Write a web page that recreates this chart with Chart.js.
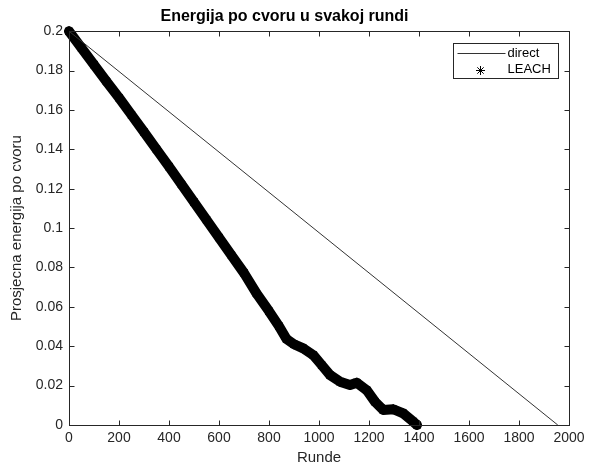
<!DOCTYPE html>
<html>
<head>
<meta charset="utf-8">
<script src="https://cdn.jsdelivr.net/npm/chart.js@4"></script>
<style>
  body { margin: 0; background: #fff; }
  #wrap { width: 590px; height: 468px; }
</style>
</head>
<body>
<div id="wrap"><canvas id="energyChart" width="590" height="468"></canvas></div>
<script>
// values
const directRounds = [0, 1955];
const directEnergy = [0.2, 0];

const leachRounds = [0, 50, 100, 150, 200, 250, 300, 350, 400, 450, 500, 550, 600, 650, 700, 750, 800,
    840, 870, 900, 937, 977, 1011, 1044, 1084, 1124, 1151, 1191, 1224, 1257, 1297, 1337, 1377, 1392];
const leachEnergy = [0.2, 0.1915, 0.183, 0.1745, 0.1662, 0.1575, 0.1488, 0.14, 0.1312, 0.1222, 0.1132, 0.1042, 0.0952, 0.0862, 0.0772, 0.0668, 0.0578,
    0.0502, 0.0437, 0.041, 0.0389, 0.0355, 0.0304, 0.0254, 0.022, 0.0203, 0.0215, 0.0177, 0.0118, 0.0076, 0.008, 0.0059, 0.0017, 0];

const xTicks = [0, 200, 400, 600, 800, 1000, 1200, 1400, 1600, 1800, 2000];
const yTicks = [0, 0.02, 0.04, 0.06, 0.08, 0.1, 0.12, 0.14, 0.16, 0.18, 0.2];

const FONT = "'Liberation Sans', Arial, sans-serif";
const AXIS = '#262626';

// box, inward ticks and the legend, matlab style
const framePlugin = {
    id: 'frame',
    afterDraw(chart) {
        const ctx = chart.ctx;
        const a = chart.chartArea;
        const l = Math.round(a.left) + 0.5, r = Math.round(a.right) + 0.5;
        const t = Math.round(a.top) + 0.5, b = Math.round(a.bottom) + 0.5;
        ctx.save();
        ctx.strokeStyle = AXIS;
        ctx.lineWidth = 1;
        ctx.strokeRect(l, t, r - l, b - t);
        ctx.beginPath();
        xTicks.forEach(v => {
            const px = Math.round(chart.scales.x.getPixelForValue(v)) + 0.5;
            ctx.moveTo(px, b); ctx.lineTo(px, b - 5);
            ctx.moveTo(px, t); ctx.lineTo(px, t + 5);
        });
        yTicks.forEach(v => {
            const py = Math.round(chart.scales.y.getPixelForValue(v)) + 0.5;
            ctx.moveTo(l, py); ctx.lineTo(l + 5, py);
            ctx.moveTo(r, py); ctx.lineTo(r - 5, py);
        });
        ctx.stroke();

        // legend
        const ds = chart.data.datasets;
        const bx = r - 116, by = t + 12, bw = 105, bh = 35;
        ctx.fillStyle = '#fff';
        ctx.fillRect(bx, by, bw, bh);
        ctx.strokeRect(bx, by, bw, bh);
        ctx.strokeStyle = ds[0].borderColor;
        ctx.beginPath();
        ctx.moveTo(bx + 4, by + 10); ctx.lineTo(bx + 52, by + 10);
        ctx.stroke();
        ctx.strokeStyle = '#000';
        Chart.helpers.drawPoint(ctx, { pointStyle: 'star', radius: 4.5, rotation: 0, borderWidth: 1.2 }, bx + 27, by + 27);
        ctx.fillStyle = '#000';
        ctx.font = '13px ' + FONT;
        ctx.textAlign = 'left';
        ctx.textBaseline = 'middle';
        ctx.fillText(ds[0].label, bx + 54, by + 10);
        ctx.fillText(ds[1].label, bx + 54, by + 26);
        ctx.restore();
    }
};

const energyChart = new Chart(document.getElementById('energyChart'), {
    type: 'line',
    data: {
        datasets: [
            {
                label: 'direct',
                data: directRounds.map((r, i) => ({ x: r, y: directEnergy[i] })),
                borderColor: '#333',
                borderWidth: 1,
                pointRadius: 0,
                fill: false
            },
            {
                label: 'LEACH',
                data: leachRounds.map((r, i) => ({ x: r, y: leachEnergy[i] })),
                borderColor: '#000',
                backgroundColor: '#000',
                borderWidth: 10,
                borderJoinStyle: 'round',
                borderCapStyle: 'round',
                pointStyle: 'star',
                pointRadius: 5,
                pointBorderWidth: 1.5,
                pointBorderColor: '#000',
                fill: false,
                clip: false
            }
        ]
    },
    options: {
        responsive: false,
        animation: false,
        layout: { padding: { left: 0, right: 21, top: 0, bottom: 0 } },
        plugins: {
            legend: { display: false },
            tooltip: { enabled: false },
            title: {
                display: true,
                text: 'Energija po cvoru u svakoj rundi',
                color: '#000',
                font: { family: FONT, size: 16, weight: 'bold' },
                padding: { top: 7, bottom: 5 }
            }
        },
        scales: {
            x: {
                type: 'linear',
                min: 0,
                max: 2000,
                afterBuildTicks: s => { s.ticks = xTicks.map(v => ({ value: v })); },
                afterFit: s => { s.height = 43; },
                grid: { display: false, drawTicks: false },
                border: { display: false },
                ticks: {
                    color: AXIS,
                    padding: 5,
                    maxRotation: 0,
                    font: { family: FONT, size: 14 },
                    callback: v => String(v)
                },
                title: {
                    display: true,
                    text: 'Runde',
                    color: AXIS,
                    padding: { top: 1, bottom: 1 },
                    font: { family: FONT, size: 15 }
                }
            },
            y: {
                min: 0,
                max: 0.2,
                afterBuildTicks: s => { s.ticks = yTicks.map(v => ({ value: v })); },
                afterFit: s => { s.width = 69; },
                grid: { display: false, drawTicks: false },
                border: { display: false },
                ticks: {
                    color: AXIS,
                    padding: 6,
                    font: { family: FONT, size: 14 },
                    callback: v => String(+v.toFixed(2))
                },
                title: {
                    display: true,
                    text: 'Prosjecna energija po cvoru',
                    color: AXIS,
                    padding: { top: 8, bottom: 4 },
                    font: { family: FONT, size: 15 }
                }
            }
        }
    },
    plugins: [framePlugin]
});
</script>
</body>
</html>
